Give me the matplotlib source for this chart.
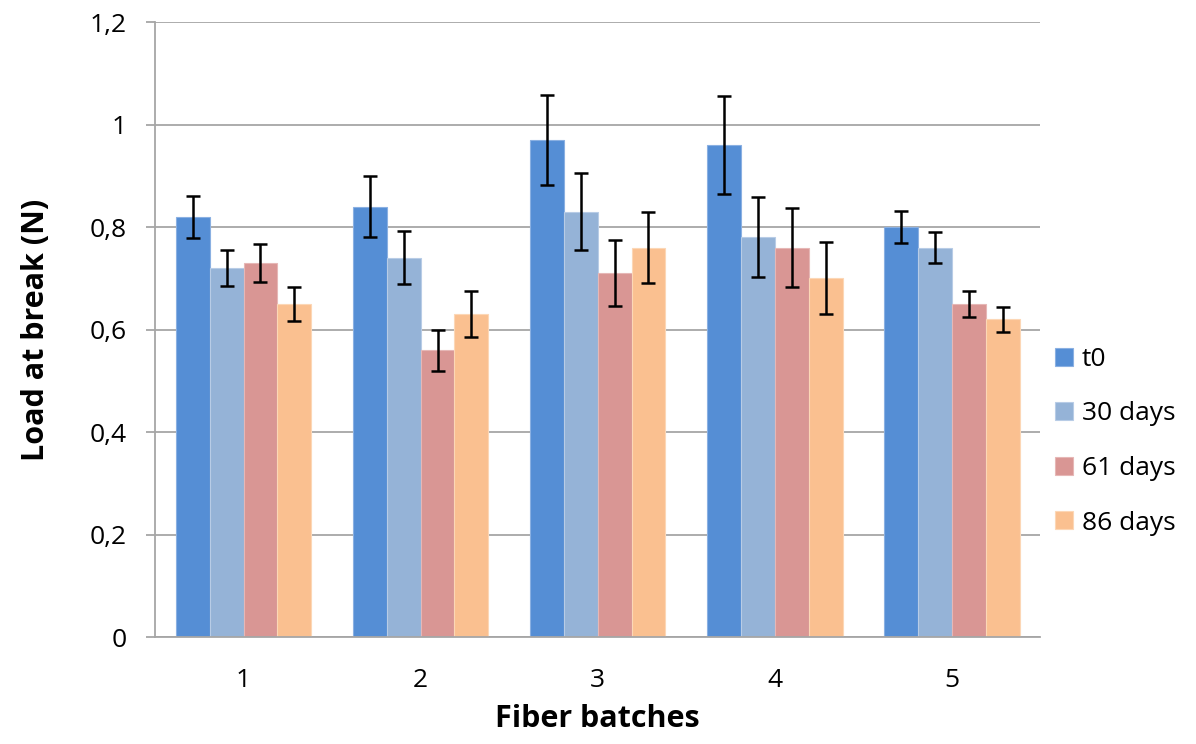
import matplotlib.pyplot as plt
import numpy as np
from matplotlib.ticker import FuncFormatter

plt.rcParams['font.family'] = ['Open Sans', 'DejaVu Sans']

batches = ['1', '2', '3', '4', '5']
series = ['t0', '30 days', '61 days', '86 days']

# mean load at break (N) per batch
t0 = [0.82, 0.84, 0.97, 0.96, 0.80]
d30 = [0.72, 0.74, 0.83, 0.78, 0.76]
d61 = [0.73, 0.56, 0.71, 0.76, 0.65]
d86 = [0.65, 0.63, 0.76, 0.70, 0.62]

# standard deviations
t0_err = [0.041, 0.059, 0.088, 0.096, 0.032]
d30_err = [0.036, 0.052, 0.075, 0.078, 0.030]
d61_err = [0.037, 0.040, 0.064, 0.077, 0.026]
d86_err = [0.033, 0.045, 0.069, 0.070, 0.024]

values = [t0, d30, d61, d86]
errors = [t0_err, d30_err, d61_err, d86_err]
colors = ['#558ED5', '#95B3D7', '#D99694', '#FAC090']
edges = ['#8AB0E2', '#B8CCE6', '#E6B7B6', '#FCD7B6']

fig = plt.figure(figsize=(11.96, 7.44), dpi=100)
ax = fig.add_axes([0.1296, 0.1438, 0.7400, 0.8266])

x = np.arange(1, len(batches) + 1)
width = 0.192
for i, (vals, errs) in enumerate(zip(values, errors)):
    pos = x + (i - 1.5) * width
    ax.bar(pos, vals, width, color=colors[i], edgecolor=edges[i],
           linewidth=0.8, label=series[i], zorder=2)
    ax.errorbar(pos, vals, yerr=errs, fmt='none', ecolor='black',
                elinewidth=1.8, capsize=5, capthick=1.8, zorder=3)

ax.set_xlim(0.5, 5.5)
ax.set_ylim(0, 1.2)
ax.set_yticks(np.arange(0, 1.21, 0.2))
ax.yaxis.set_major_formatter(FuncFormatter(
    lambda v, p: ('%g' % round(v, 1)).replace('.', ',')))
ax.set_xticks(x)
ax.set_xticklabels(batches)

ax.grid(axis='y', color='#A6A6A6', linewidth=1.3, zorder=0)
ax.set_axisbelow(True)
for s in ['top', 'right']:
    ax.spines[s].set_visible(False)
ax.spines['left'].set_color('#A6A6A6')
ax.spines['left'].set_linewidth(1.3)
ax.spines['bottom'].set_color('#A6A6A6')
ax.spines['bottom'].set_linewidth(1.3)

ax.tick_params(axis='y', length=6.5, width=1.3, color='#A6A6A6',
               labelsize=19, pad=14)
ax.tick_params(axis='x', length=0, labelsize=19, pad=22)

ax.set_xlabel('Fiber batches', fontsize=22, fontweight='bold', labelpad=8)
ax.set_ylabel('Load at break (N)', fontsize=22, fontweight='bold', labelpad=28)

ax.legend(loc='center left', bbox_to_anchor=(0.871, 0.407),
          bbox_transform=fig.transFigure, frameon=False, fontsize=19,
          handlelength=0.68, handleheight=0.68, handletextpad=0.35,
          labelspacing=1.12, borderpad=0)

plt.savefig('out.png', dpi=100)
